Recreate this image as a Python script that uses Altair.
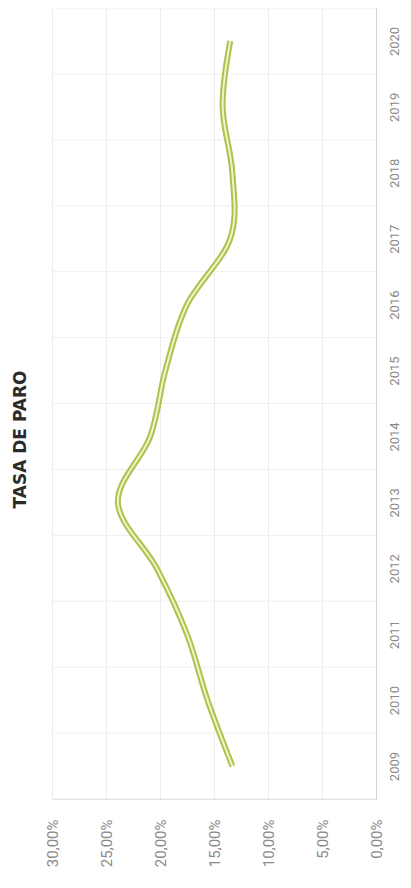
import altair as alt
import pandas as pd

years = [2009, 2010, 2011, 2012, 2013, 2014, 2015, 2016, 2017, 2018, 2019, 2020]
tasa = [0.133, 0.156, 0.175, 0.203, 0.239, 0.209, 0.195, 0.175, 0.135, 0.133, 0.142, 0.135]
x_ticks = [0.0, 0.05, 0.10, 0.15, 0.20, 0.25, 0.30]

df = pd.DataFrame({"year": years, "tasa": tasa})
bounds = pd.DataFrame({"b": [years[0] - 0.5] + [y + 0.5 for y in years]})

W, H = 324, 791
yscale = alt.Scale(domain=[years[0] - 0.5, years[-1] + 0.5], nice=False, zero=False)
xscale = alt.Scale(domain=[0, 0.30], reverse=True, nice=False)

yaxis = alt.Axis(
    orient="right",
    values=years,
    format="d",
    labelAngle=-90,
    labelAlign="center",
    labelBaseline="top",
    labelPadding=12,
    labelColor="#8a8a8a",
    labelFont="Roboto",
    labelFontSize=13,
    ticks=False,
    grid=False,
    domainColor="#d2d2d2",
    title=None,
)

grid = alt.Chart(bounds).mark_rule(color="#efefef", strokeWidth=1).encode(
    y=alt.Y("b:Q", scale=yscale, axis=yaxis)
)

base = alt.Chart(df).encode(
    x=alt.X(
        "tasa:Q",
        scale=xscale,
        axis=alt.Axis(
            values=x_ticks,
            labelExpr="replace(format(datum.value, '.2%'), '.', ',')",
            labelAngle=-90,
            labelAlign="right",
            labelBaseline="middle",
            labelPadding=20,
            labelColor="#8a8a8a",
            labelFont="Roboto",
            labelFontSize=15,
            ticks=False,
            grid=True,
            gridColor="#ececec",
            domainColor="#d2d2d2",
            title=None,
        ),
    ),
    y=alt.Y("year:Q", scale=yscale, axis=yaxis),
    order=alt.Order("year:Q"),
)

outer = base.mark_line(color="#adc24f", strokeWidth=6, interpolate="cardinal")
inner = base.mark_line(color="#eef4c6", strokeWidth=2, interpolate="cardinal")

chart = (
    alt.layer(grid, outer, inner)
    .properties(
        width=W,
        height=H,
        autosize=alt.AutoSizeParams(type="none"),
        padding={"left": 44, "top": 0, "right": 27, "bottom": 80},
        title=alt.TitleParams(
            text="TASA DE PARO",
            orient="left",
            anchor="middle",
            angle=270,
            offset=15,
            dx=-36,
            font="DejaVu Sans",
            fontSize=17,
            fontWeight="bold",
            color="#2b2b2b",
        ),
    )
    .configure_view(stroke=None)
)

chart.save("out.html", embed_options={"renderer": "svg", "actions": False})
